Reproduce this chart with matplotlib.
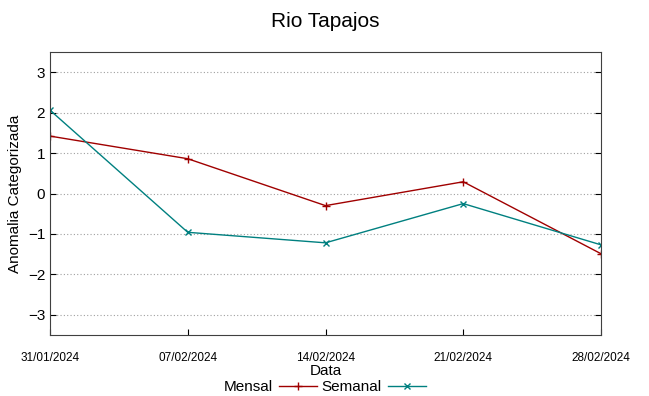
import matplotlib
matplotlib.use('Agg')
import matplotlib.pyplot as plt
from datetime import datetime

plt.rcParams['font.family'] = ['Liberation Sans', 'DejaVu Sans']

datas = ['31/01/2024', '07/02/2024', '14/02/2024', '21/02/2024', '28/02/2024']
mensal = [1.42, 0.86, -0.30, 0.29, -1.49]
semanal = [2.06, -0.96, -1.22, -0.25, -1.27]

dates = [datetime.strptime(d, '%d/%m/%Y') for d in datas]

fig = plt.figure(figsize=(6.49, 3.96), dpi=100)
ax = fig.add_axes([50/649, 61/396, 551/649, 283/396])

ax.plot(dates, mensal, c='#a00000', lw=1, marker='+', ms=6, label='Mensal')
ax.plot(dates, semanal, c='#008080', lw=1, marker='x', ms=4.5, label='Semanal')

ax.set_xlim(dates[0], dates[-1])
ax.set_ylim(-3.5, 3.5)
ax.set_yticks([-3, -2, -1, 0, 1, 2, 3])
ax.set_xticks(dates)
ax.set_xticklabels(datas, fontsize=8.5)
ax.tick_params(axis='x', pad=12)
ax.tick_params(axis='y', labelsize=11)
ax.tick_params(direction='in', right=True, top=False, length=4)
ax.yaxis.grid(True, ls=(0, (1, 2)), color='#a0a0a0', lw=0.8)
for s in ax.spines.values():
    s.set_color('#404040')

ax.set_title('Rio Tapajos', fontsize=15, pad=18)
ax.set_xlabel('Data', fontsize=11, labelpad=0)
ax.set_ylabel('Anomalia Categorizada', fontsize=11)

ax.legend(loc='center', bbox_to_anchor=(325/649, 9/396), bbox_transform=fig.transFigure,
          ncol=2, frameon=False, markerfirst=False, fontsize=11,
          handlelength=2.5, columnspacing=0.3, handletextpad=0.4)

fig.savefig('out.png', dpi=100)
